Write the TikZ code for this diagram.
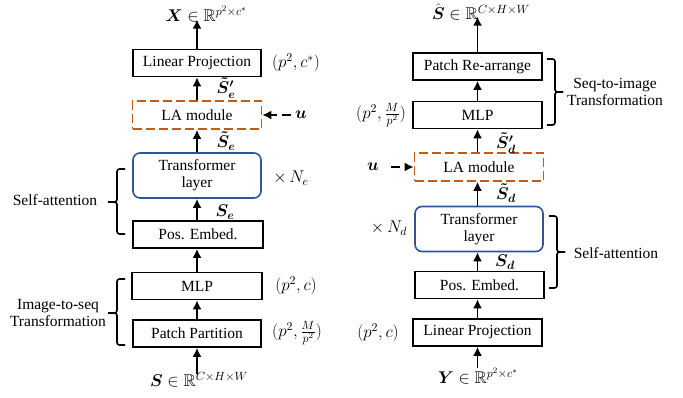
\documentclass[tikz,border=0pt]{standalone}
\usepackage{fix-cm}
\usepackage{amsmath,amssymb}
\usepackage{fontspec}
\setmainfont{Liberation Serif}
\usetikzlibrary{arrows.meta}
\definecolor{laorange}{HTML}{C55A11}
\definecolor{trblue}{HTML}{2F5597}
\begin{document}
\begin{tikzpicture}[x=1pt,y=-1pt,
  every node/.style={font=\fontsize{15.5}{18}\selectfont, inner sep=0pt},
  blk/.style={draw, line width=1.6pt, minimum width=128pt, minimum height=27pt, fill=white},
  trbox/.style={draw=trblue, line width=1.6pt, rounded corners=7pt, minimum width=128pt, minimum height=45pt, align=center},
  labox/.style={draw=laorange, line width=1.6pt, dash pattern=on 9pt off 4pt, minimum width=129pt, minimum height=28pt, fill=white},
  arr/.style={-{Latex[length=9pt,width=9pt]}, line width=1.8pt},
  darr/.style={arr, dash pattern=on 9pt off 5pt},
  brk/.style={line width=1.6pt, rounded corners=2.5pt},
  lbl/.style={align=center},
  mth/.style={font=\fontsize{17}{20}\selectfont},
]
\useasboundingbox (0,0) rectangle (683,397);

% ---------------- encoder (left) ----------------
\node[blk] (lpL) at (197,63) {Linear Projection};
\node[labox] (laL) at (197,115) {LA module};
\node[trbox] (trL) at (197,175.5) {Transformer\\[-1pt]layer};
\node[blk, minimum width=130pt] (peL) at (198,234.5) {Pos. Embed.};
\node[blk, minimum width=130pt] (mlpL) at (197,286) {MLP};
\node[blk] (ppL) at (197,333.5) {Patch Partition};

\node[mth] (xOut) at (206,14) {$\boldsymbol{X}\in\mathbb{R}^{p^2\times c^*}$};
\node[mth] (sIn) at (199,380) {$\boldsymbol{S}\in\mathbb{R}^{C\times H\times W}$};
\node[mth] (uL) at (301,115) {$\boldsymbol{u}$};

\draw[arr] (lpL.north) -- ([yshift=3pt]lpL.north |- xOut.south);
\draw[arr] (laL) -- (lpL);
\draw[arr] (trL) -- (laL);
\draw[arr] (peL.north -| trL) -- (trL);
\draw[arr] (mlpL) -- (peL.south -| mlpL);
\draw[arr] (ppL) -- (mlpL);
\draw[arr] ([yshift=-2pt]ppL.south |- sIn.north) -- (ppL);
\draw[darr] (uL.west) ++(-4pt,0) -- (laL.east);

\node[mth] at (226,88) {$\boldsymbol{\tilde{S}'_e}$};
\node[mth] at (226,141) {$\boldsymbol{\tilde{S}_e}$};
\node[mth] at (225,212) {$\boldsymbol{S_e}$};

\node[mth] at (296,63) {$(p^2,c^*)$};
\node[mth] at (291,178) {$\times\, N_e$};
\node[mth] at (296,286) {$(p^2,c)$};
\node[mth] at (297,333) {$(p^2,\frac{M}{p^2})$};

\draw[brk] (125,169) -- (117,169) -- (117,202) -- (108,202);
\draw[brk] (108,202) -- (117,202) -- (117,234) -- (125,234);
\node[lbl] at (55,200) {Self-attention};
\draw[brk] (125,279) -- (117,279) -- (117,313) -- (108,313);
\draw[brk] (108,313) -- (117,313) -- (117,345) -- (125,345);
\node[lbl] at (58,313) {Image-to-seq\\[-1pt]Transformation};

% ---------------- decoder (right) ----------------
\node[blk, minimum width=129pt] (prR) at (477.5,66.5) {Patch Re-arrange};
\node[blk, minimum width=129pt] (mlpR) at (477.5,115) {MLP};
\node[labox] (laR) at (479,167) {LA module};
\node[trbox] (trR) at (479,229) {Transformer\\[-1pt]layer};
\node[blk, minimum width=129pt] (peR) at (479.5,285) {Pos. Embed.};
\node[blk, minimum width=129pt] (lpR) at (477.5,332.5) {Linear Projection};

\node[mth] (sOut) at (481,12) {$\hat{\boldsymbol{S}}\in\mathbb{R}^{C\times H\times W}$};
\node[mth] (yIn) at (478,376) {$\boldsymbol{Y}\in\mathbb{R}^{p^2\times c^*}$};
\node[mth] (uR) at (373,167) {$\boldsymbol{u}$};

\draw[arr] (prR.north) -- ([yshift=4pt]prR.north |- sOut.south);
\draw[arr] (mlpR) -- (prR);
\draw[arr] (laR.north -| mlpR) -- (mlpR);
\draw[arr] (trR.north -| mlpR) -- (laR.south -| mlpR);
\draw[arr] (peR.north -| mlpR) -- (trR.south -| mlpR);
\draw[arr] (lpR) -- (peR.south -| lpR);
\draw[arr] ([yshift=-1pt]lpR.south |- yIn.north) -- (lpR);
\draw[darr] (uR.east) ++(12pt,0) -- (laR.west);

\node[mth] at (506,143) {$\boldsymbol{\tilde{S}'_d}$};
\node[mth] at (506,193) {$\boldsymbol{\tilde{S}_d}$};
\node[mth] at (505,262) {$\boldsymbol{S_d}$};

\node[mth] at (381,115) {$(p^2,\frac{M}{p^2})$};
\node[mth] at (389,228) {$\times\, N_d$};
\node[mth] at (378,333) {$(p^2,c)$};

\draw[brk] (547,59) -- (555,59) -- (555,92) -- (563,92);
\draw[brk] (563,92) -- (555,92) -- (555,125) -- (547,125);
\node[lbl] at (615,92) {Seq-to-image\\[-1pt]Transformation};
\draw[brk] (549,216) -- (557,216) -- (557,252) -- (565,252);
\draw[brk] (565,252) -- (557,252) -- (557,288) -- (549,288);
\node[lbl] at (616,253) {Self-attention};
\end{tikzpicture}
\end{document}
